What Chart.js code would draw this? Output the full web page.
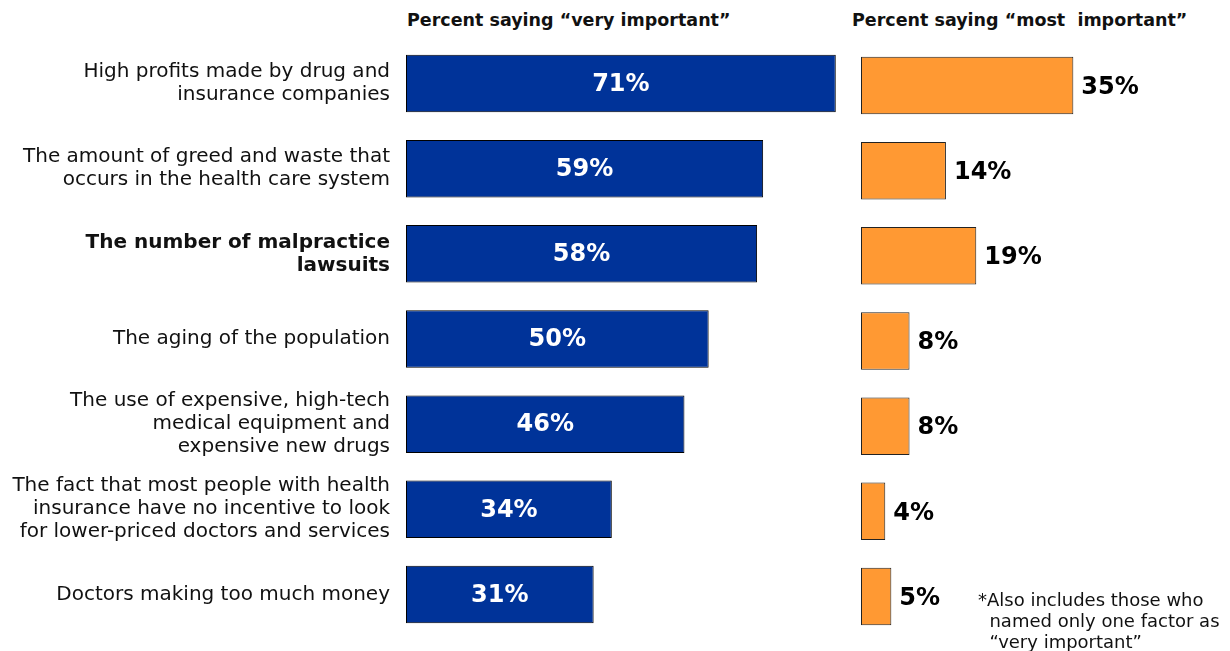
<!DOCTYPE html>
<html>
<head>
<meta charset="utf-8">
<script src="https://cdn.jsdelivr.net/npm/chart.js@4/dist/chart.umd.min.js"></script>
<style>
  html, body { margin: 0; padding: 0; background: #fff; }
  body { width: 1230px; height: 651px; position: relative; overflow: hidden; font-family: "DejaVu Sans", Verdana, sans-serif; }
  .head { position: absolute; top: 10px; font-weight: bold; font-size: 17.5px; color: #111; white-space: nowrap; }
  #leftWrap { position: absolute; left: 0; top: 41px; width: 860px; height: 596px; }
  #rightWrap { position: absolute; left: 860px; top: 43px; width: 365px; height: 596px; }
  .note { position: absolute; left: 978px; top: 589px; font-size: 18px; line-height: 21px; color: #111; white-space: nowrap; }
</style>
</head>
<body>
<div class="head" style="left:407px">Percent saying “very important”</div>
<div class="head" style="left:852px">Percent saying “most&nbsp; important”</div>
<div id="leftWrap"><canvas id="left"></canvas></div>
<div id="rightWrap"><canvas id="right"></canvas></div>
<div class="note">*Also includes those who<br>&nbsp; named only one factor as<br>&nbsp; “very important”</div>
<script>
const categories = [
  ['High profits made by drug and', 'insurance companies'],
  ['The amount of greed and waste that', 'occurs in the health care system'],
  ['The number of malpractice', 'lawsuits'],
  ['The aging of the population'],
  ['The use of expensive, high-tech', 'medical equipment and', 'expensive new drugs'],
  ['The fact that most people with health', 'insurance have no incentive to look', 'for lower-priced doctors and services'],
  ['Doctors making too much money']
];
const veryImportant = [71, 59, 58, 50, 46, 34, 31];
const mostImportant = [35, 14, 19, 8, 8, 4, 5];
const boldRow = 2;

const FONT = '"DejaVu Sans", Verdana, sans-serif';

// writes the percent next to / inside each bar
const valueLabels = {
  id: 'valueLabels',
  afterDatasetsDraw(chart, args, opts) {
    const { ctx } = chart;
    const meta = chart.getDatasetMeta(0);
    const data = chart.data.datasets[0].data;
    ctx.save();
    ctx.font = 'bold 24px ' + FONT;
    ctx.textBaseline = 'middle';
    meta.data.forEach((bar, i) => {
      const txt = data[i] + '%';
      if (opts.inside) {
        ctx.fillStyle = '#fff';
        ctx.textAlign = 'center';
        ctx.fillText(txt, (bar.base + bar.x) / 2, bar.y + 1);
      } else {
        ctx.fillStyle = '#000';
        ctx.textAlign = 'left';
        ctx.fillText(txt, bar.x + 8, bar.y + 2);
      }
    });
    ctx.restore();
  }
};

function baseOptions(max) {
  return {
    responsive: true,
    maintainAspectRatio: false,
    animation: false,
    indexAxis: 'y',
    layout: { padding: 0 },
    plugins: { legend: { display: false }, tooltip: { enabled: false } },
    scales: {
      x: { display: false, min: 0, max: max }
    }
  };
}

const leftOpts = baseOptions(75);
leftOpts.plugins.valueLabels = { inside: true };
leftOpts.scales.y = {
  grid: { display: false, drawTicks: false },
  border: { display: false },
  // fixed label column; no extra room for the tall first/last labels
  afterFit: (s) => { s.width = 406; s.paddingTop = 0; s.paddingBottom = 0; },
  ticks: {
    padding: 16,
    color: '#111',
    font: (c) => ({ family: FONT, size: 20, lineHeight: 1.15, weight: c.index === boldRow ? 'bold' : 'normal' })
  }
};

new Chart(document.getElementById('left'), {
  type: 'bar',
  data: {
    labels: categories,
    datasets: [{
      data: veryImportant,
      backgroundColor: '#003399',
      borderColor: '#000',
      borderWidth: 1,
      borderSkipped: false,
      clip: false,
      barPercentage: 0.675,
      categoryPercentage: 1
    }]
  },
  options: leftOpts,
  plugins: [valueLabels]
});

const rightOpts = baseOptions(60);
rightOpts.layout = { padding: { left: 1 } };
rightOpts.plugins.valueLabels = { inside: false };
rightOpts.scales.y = { display: false };

new Chart(document.getElementById('right'), {
  type: 'bar',
  data: {
    labels: categories,
    datasets: [{
      data: mostImportant,
      backgroundColor: '#FF9933',
      borderColor: '#222',
      borderWidth: 1,
      borderSkipped: false,
      clip: false,
      barPercentage: 0.675,
      categoryPercentage: 1
    }]
  },
  options: rightOpts,
  plugins: [valueLabels]
});
</script>
</body>
</html>
